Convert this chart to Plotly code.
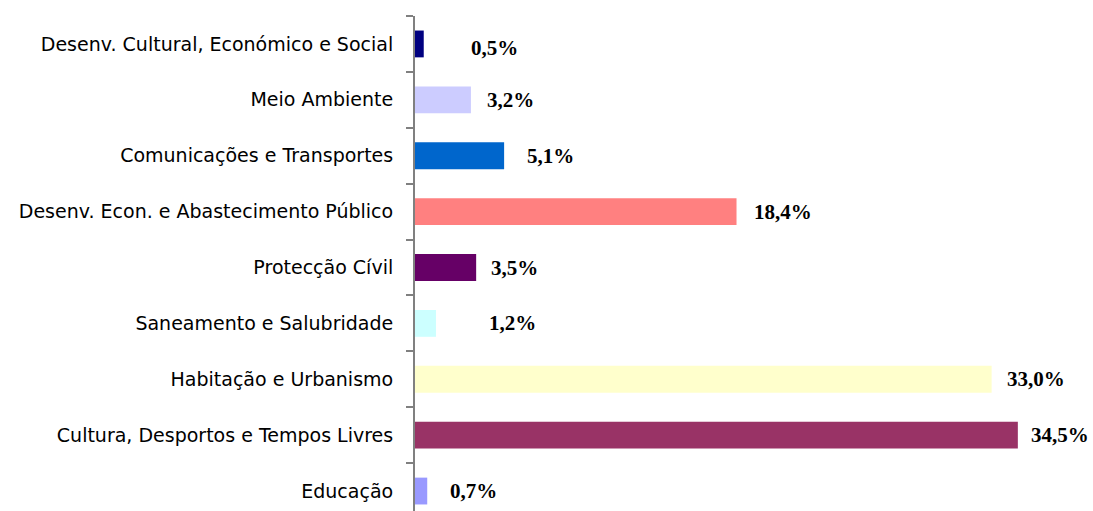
import plotly.graph_objects as go

categories = [
    "Educação",
    "Cultura, Desportos e Tempos Livres",
    "Habitação e Urbanismo",
    "Saneamento e Salubridade",
    "Protecção Cívil",
    "Desenv. Econ. e Abastecimento Público",
    "Comunicações e Transportes",
    "Meio Ambiente",
    "Desenv. Cultural, Económico e Social",
]
values = [0.7, 34.5, 33.0, 1.2, 3.5, 18.4, 5.1, 3.2, 0.5]
colors = ["#9999FF", "#993366", "#FFFFCC", "#CCFFFF", "#660066",
          "#FF8080", "#0066CC", "#CCCCFF", "#000080"]
# per-label horizontal nudges (px) to mimic the original label placement
label_shift = [21, 11, 13, 51, 13, 15, 21, 14, 45]
label_yshift = [0, 0, 0, 0, 0, 0, 0, 0, -4]

fig = go.Figure()
fig.add_trace(go.Bar(
    y=categories, x=values, orientation="h",
    marker=dict(color=colors, line=dict(width=0)),
    hoverinfo="skip",
))

for cat, v, dx, dy in zip(categories, values, label_shift, label_yshift):
    fig.add_annotation(
        x=v, y=cat, xref="x", yref="y",
        text="<b>" + f"{v:.1f}".replace(".", ",") + "%</b>",
        showarrow=False, xanchor="left", yanchor="middle",
        xshift=dx, yshift=dy,
        font=dict(family="Liberation Serif", size=21, color="black"),
    )

fig.update_layout(
    width=1093, height=511,
    margin=dict(l=415, r=14, t=16, b=0, autoexpand=False),
    paper_bgcolor="white", plot_bgcolor="white",
    bargap=0.52, showlegend=False,
    font=dict(family="DejaVu Sans", size=19, color="black"),
)
fig.update_xaxes(range=[0, 38], visible=False, showgrid=False, zeroline=False,
                 automargin=False)
fig.update_yaxes(
    type="category", range=[-0.357, 8.5], automargin=False,
    showline=True, linecolor="#808080", linewidth=2,
    ticks="outside", tickson="boundaries", ticklen=7, tickcolor="#808080", tickwidth=2,
    ticklabelstandoff=16, showgrid=False,
    tickfont=dict(family="DejaVu Sans", size=19, color="black"),
)

fig.write_html(
    "out.html",
    config={"displayModeBar": False},
    post_script="document.body.style.margin='0';document.body.style.overflow='hidden';",
)
